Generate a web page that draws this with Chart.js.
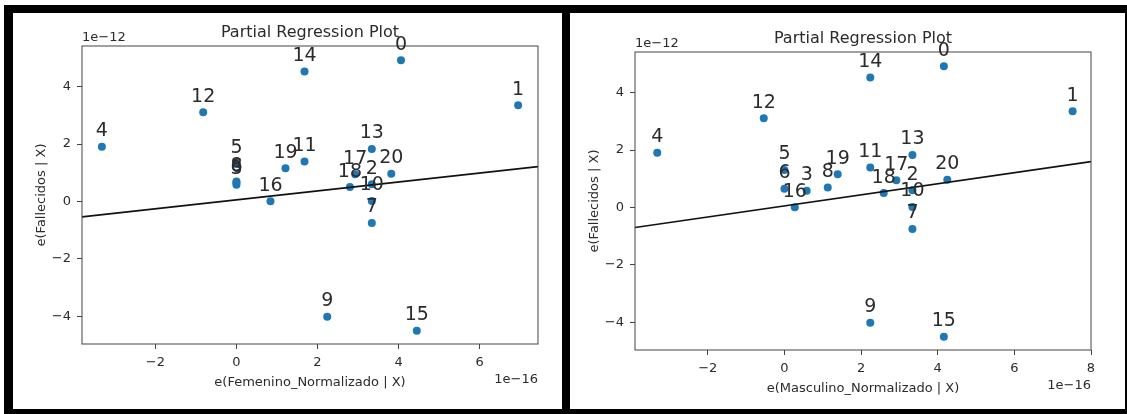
<!DOCTYPE html>
<html>
<head>
<meta charset="utf-8">
<script src="https://cdn.jsdelivr.net/npm/chart.js@4.4.0/dist/chart.umd.min.js"></script>
<style>
  html, body { margin: 0; padding: 0; background: #fff; }
  body { width: 1127px; height: 414px; position: relative; overflow: hidden; }
  .bar { position: absolute; background: #000; }
  canvas { position: absolute; }
</style>
</head>
<body>
<div class="bar" style="left:4px;top:5px;width:1123px;height:8px"></div>
<div class="bar" style="left:4px;top:5px;width:9px;height:409px"></div>
<div class="bar" style="left:562px;top:5px;width:8px;height:409px"></div>
<div class="bar" style="left:4px;top:409px;width:1123px;height:5px"></div>
<div class="bar" style="left:1125px;top:5px;width:2px;height:409px"></div>
<canvas id="left" width="549" height="391" style="left:13px;top:13px"></canvas>
<canvas id="right" width="549" height="391" style="left:566px;top:19px"></canvas>
<script>
// observation labels (row index)
const obsLabels = ['0','1','2','3','4','5','6','7','8','9','10','11','12','13','14','15','16','17','18','19','20'];

// e(Fallecidos | X), in units of 1e-12
const fallecidosResid = [4.92, 3.35, 0.60, 0.58, 1.91, 1.31, 0.65, -0.75, 0.70, -4.02, 0.02,
                         1.39, 3.11, 1.83, 4.53, -4.51, 0.01, 0.95, 0.50, 1.16, 0.97];

// e(Femenino_Normalizado | X), in units of 1e-16
const femeninoResid = [4.06, 6.95, 3.34, 0.0, -3.32, 0.0, 0.0, 3.34, 0.0, 2.24, 3.34,
                       1.68, -0.82, 3.34, 1.68, 4.45, 0.84, 2.93, 2.80, 1.21, 3.82];

// e(Masculino_Normalizado | X), in units of 1e-16
const masculinoResid = [4.16, 7.52, 3.34, 0.58, -3.32, 0.0, 0.0, 3.34, 1.13, 2.24, 3.34,
                        2.24, -0.54, 3.34, 2.24, 4.16, 0.27, 2.92, 2.59, 1.39, 4.25];

// fitted line [intercept, slope]
const femeninoFit = [0.055, 0.156];
const masculinoFit = [0.053, 0.193];

const femeninoRange = [-3.81, 7.44];
const masculinoRange = [-3.9, 8.0];
const yRange = [-4.97, 5.42];

const femeninoTicks = [-2, 0, 2, 4, 6];
const masculinoTicks = [-2, 0, 2, 4, 6, 8];
const yTicks = [-4, -2, 0, 2, 4];

const FONT = '"DejaVu Sans", sans-serif';
const TXT = '#2b2b2b';
const AXIS = '#444';

function fmt(v) {
    return v < 0 ? '\u2212' + Math.abs(v) : String(v);
}

const panelText = {
    id: 'panelText',
    afterDraw(chart, args, opts) {
        const {ctx, chartArea: a, scales: {x, y}} = chart;
        ctx.save();
        ctx.strokeStyle = AXIS;
        ctx.lineWidth = 1;
        ctx.strokeRect(a.left, a.top, a.right - a.left, a.bottom - a.top);

        ctx.fillStyle = TXT;
        ctx.font = '19px ' + FONT;
        ctx.textAlign = 'center';
        ctx.textBaseline = 'alphabetic';
        opts.xs.forEach((xv, i) => {
            const px = x.getPixelForValue(xv);
            const py = y.getPixelForValue(fallecidosResid[i]);
            ctx.fillText(obsLabels[i], px, py - 10.5);
        });

        ctx.font = '16px ' + FONT;
        ctx.textBaseline = 'middle';
        ctx.fillText('Partial Regression Plot', (a.left + a.right) / 2, a.top - 13);

        ctx.font = '13px ' + FONT;
        ctx.textAlign = 'left';
        ctx.fillText('1e\u221212', a.left, a.top - 8);
        ctx.textAlign = 'right';
        ctx.fillText('1e\u221216', a.right, a.bottom + 36);
        ctx.restore();
    }
};

function makePanel(id, xs, fit, xRange, xTicks, xTitle) {
    const points = xs.map((v, i) => ({x: v, y: fallecidosResid[i]}));
    const line = xRange.map(v => ({x: v, y: fit[0] + fit[1] * v}));
    new Chart(document.getElementById(id), {
        type: 'scatter',
        data: {
            datasets: [{
                type: 'line',
                data: line,
                borderColor: '#111',
                borderWidth: 1.6,
                pointRadius: 0,
                fill: false
            }, {
                data: points,
                backgroundColor: '#1f77b4',
                borderWidth: 0,
                pointRadius: 4
            }]
        },
        options: {
            responsive: false,
            animation: false,
            layout: {padding: {top: 33, right: 24, left: 0, bottom: 0}},
            plugins: {
                legend: {display: false},
                tooltip: {enabled: false},
                panelText: {xs: xs}
            },
            scales: {
                x: {
                    type: 'linear',
                    min: xRange[0],
                    max: xRange[1],
                    afterBuildTicks: axis => { axis.ticks = xTicks.map(v => ({value: v})); },
                    afterFit: axis => { axis.height = 60; },
                    grid: {drawOnChartArea: false, drawTicks: true, tickLength: 5, tickColor: AXIS},
                    border: {display: false},
                    ticks: {font: {family: FONT, size: 13}, color: TXT, padding: 6,
                            maxRotation: 0, autoSkip: false, callback: fmt},
                    title: {display: true, text: xTitle, color: TXT,
                            font: {family: FONT, size: 13}, padding: {top: 0, bottom: 14}}
                },
                y: {
                    type: 'linear',
                    min: yRange[0],
                    max: yRange[1],
                    afterBuildTicks: axis => { axis.ticks = yTicks.map(v => ({value: v})); },
                    afterFit: axis => { axis.width = 69; },
                    grid: {drawOnChartArea: false, drawTicks: true, tickLength: 5, tickColor: AXIS},
                    border: {display: false},
                    ticks: {font: {family: FONT, size: 13}, color: TXT, padding: 6, callback: fmt},
                    title: {display: true, text: 'e(Fallecidos | X)', color: TXT,
                            font: {family: FONT, size: 13}, padding: {top: 21, bottom: 0}}
                }
            }
        },
        plugins: [panelText]
    });
}

makePanel('left', femeninoResid, femeninoFit, femeninoRange, femeninoTicks, 'e(Femenino_Normalizado | X)');
makePanel('right', masculinoResid, masculinoFit, masculinoRange, masculinoTicks, 'e(Masculino_Normalizado | X)');
</script>
</body>
</html>
